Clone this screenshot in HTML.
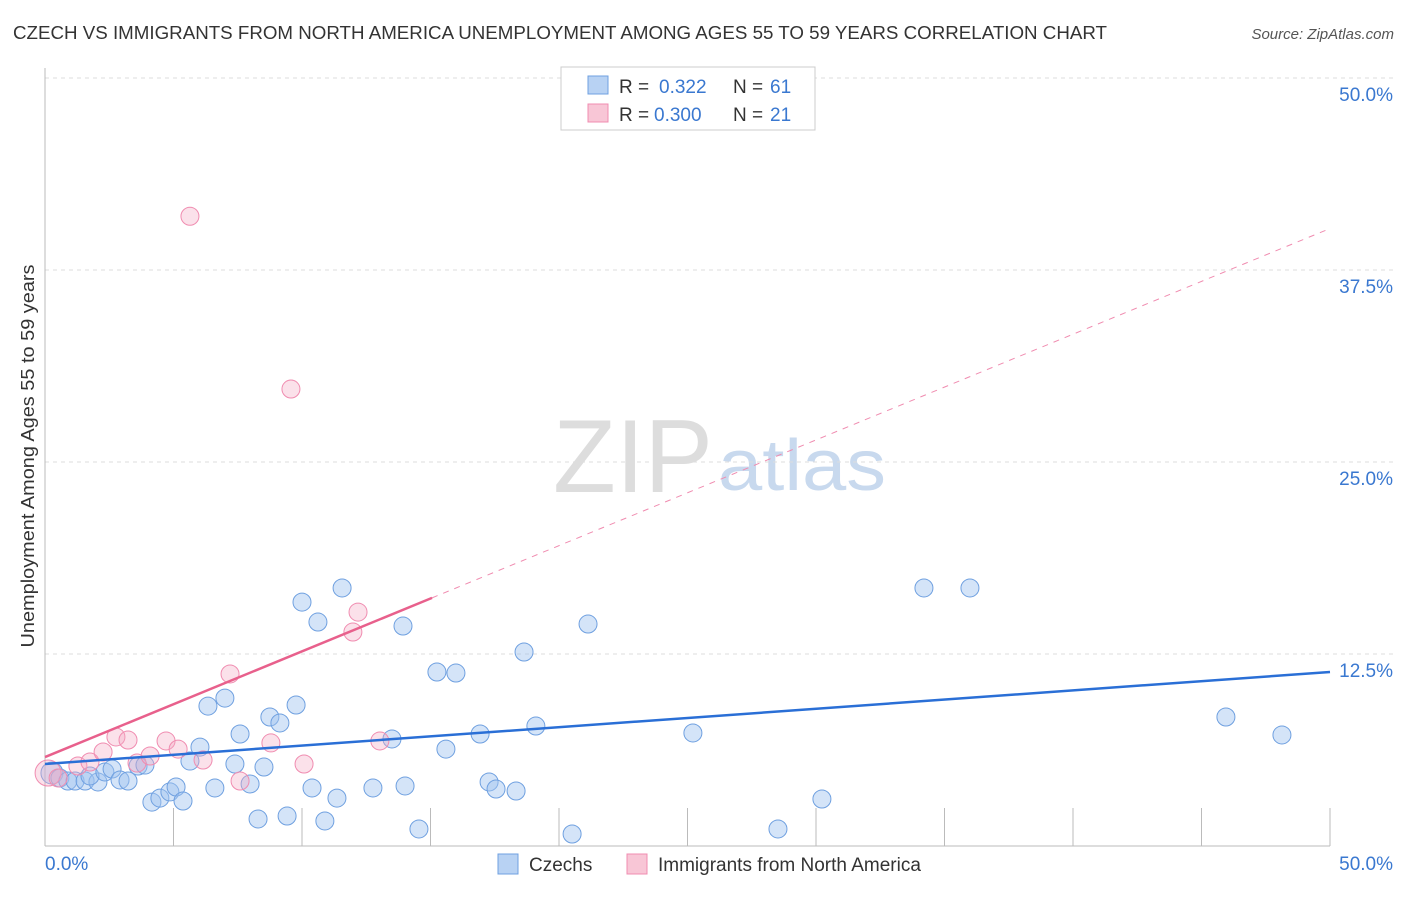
<!DOCTYPE html>
<html><head><meta charset="utf-8"><style>
body{margin:0;background:#fff;font-family:"Liberation Sans",sans-serif;}
svg text{font-family:"Liberation Sans",sans-serif;}
</style></head><body>
<svg id="chart" width="1406" height="892" xmlns="http://www.w3.org/2000/svg">
<text x="13" y="39" font-size="18" fill="#333" textLength="1094" lengthAdjust="spacingAndGlyphs">CZECH VS IMMIGRANTS FROM NORTH AMERICA UNEMPLOYMENT AMONG AGES 55 TO 59 YEARS CORRELATION CHART</text>
<text x="1394" y="39" font-size="15" fill="#555" text-anchor="end" font-style="italic">Source: ZipAtlas.com</text>
<text transform="translate(34,456) rotate(-90)" font-size="18" fill="#333" text-anchor="middle" textLength="383" lengthAdjust="spacingAndGlyphs">Unemployment Among Ages 55 to 59 years</text>
<text x="553" y="492" font-size="104" fill="#ddd" font-family="Liberation Serif" textLength="160" lengthAdjust="spacingAndGlyphs">ZIP</text>
<text x="718" y="490" font-size="72" fill="#c8d9ee" textLength="168" lengthAdjust="spacingAndGlyphs">atlas</text>
<g id="grid"></g><g id="marks"></g>
<g>
<rect x="561" y="67" width="254" height="63" fill="#fff" stroke="#ccc"/>
<rect x="588" y="76" width="20" height="18" fill="#b8d2f3" stroke="#6fa0e0"/>
<rect x="588" y="104" width="20" height="18" fill="#f8c6d6" stroke="#f08cb0"/>
<text x="619" y="93" font-size="19" fill="#333">R =</text>
<text x="659" y="93" font-size="19" fill="#3a78d0">0.322</text>
<text x="733" y="93" font-size="19" fill="#333">N =</text>
<text x="770" y="93" font-size="19" fill="#3a78d0">61</text>
<text x="619" y="121" font-size="19" fill="#333">R =</text>
<text x="654" y="121" font-size="19" fill="#3a78d0">0.300</text>
<text x="733" y="121" font-size="19" fill="#333">N =</text>
<text x="770" y="121" font-size="19" fill="#3a78d0">21</text>
</g>
<g>
<rect x="498" y="854" width="20" height="20" fill="#b8d2f3" stroke="#6fa0e0"/>
<text x="529" y="871" font-size="19" fill="#333">Czechs</text>
<rect x="627" y="854" width="20" height="20" fill="#f8c6d6" stroke="#f08cb0"/>
<text x="658" y="871" font-size="19" fill="#333">Immigrants from North America</text>
</g>
</svg>
<script>
const czechX=[0.27,0.58,0.89,1.17,1.56,2.06,1.75,2.33,2.61,2.92,3.23,3.62,3.89,4.16,4.47,4.86,5.10,5.37,5.64,6.03,6.34,6.61,7.00,7.39,7.59,7.98,8.29,8.52,8.75,9.14,9.42,9.77,10.00,10.39,10.62,10.89,11.36,11.56,12.76,13.50,13.93,14.01,14.55,15.25,15.60,15.99,16.93,17.28,17.55,18.33,18.64,19.10,20.51,21.13,25.21,28.52,30.23,34.20,35.99,45.95,48.13];
const czechY=[4.75,4.43,4.23,4.23,4.23,4.17,4.56,4.82,5.01,4.30,4.23,5.21,5.27,2.86,3.12,3.52,3.84,2.93,5.53,6.44,9.11,3.78,9.63,5.34,7.29,4.04,1.76,5.14,8.40,8.01,1.95,9.18,15.88,3.78,14.58,1.63,3.12,16.80,3.78,6.97,14.32,3.91,1.11,11.33,6.31,11.26,7.29,4.17,3.71,3.58,12.63,7.81,0.78,14.45,7.36,1.11,3.06,16.80,16.80,8.40,7.23];
const immX=[0.12,0.51,1.28,1.75,2.26,2.76,3.23,3.58,4.09,4.71,5.18,5.64,6.15,7.20,7.59,8.79,9.57,10.08,11.98,12.18,13.03];
const immY=[4.75,4.43,5.21,5.47,6.12,7.10,6.90,5.40,5.86,6.84,6.31,41.0,5.60,11.20,4.23,6.71,29.75,5.34,13.93,15.23,6.84];
const czechTrend=[5.34,11.33];
const immTrend=[5.79,40.2];
const immSolidEnd=15.06;
const yTicks=[12.5,25,37.5,50];
const yTickLabels=["12.5%","25.0%","37.5%","50.0%"];
const xTicks=[5,10,15,20,25,30,35,40,45,50];
const NS="http://www.w3.org/2000/svg";
const sx=v=>45+v/50*1285, sy=v=>846-v/12.5*192;
const grid=document.getElementById('grid'), marks=document.getElementById('marks');
function mk(tag,attrs,parent){const e=document.createElementNS(NS,tag);for(const k in attrs)e.setAttribute(k,attrs[k]);parent.appendChild(e);return e;}
yTicks.forEach((t,i)=>{
  const l=mk('line',{x1:45,x2:1394,y1:sy(t),y2:sy(t),stroke:'#ddd','stroke-dasharray':'4,4'},grid);
  
  
  const tx=mk('text',{x:1393,y:sy(t)+23,'font-size':19,fill:'#3a78d0','text-anchor':'end'},grid);
  tx.textContent=yTickLabels[i];
  
  
});
xTicks.forEach(t=>{
  const l=mk('line',{x1:sx(t),x2:sx(t),y1:808,y2:846,stroke:'#bbb'},grid);
  
  
});
const ya=mk('line',{x1:45,x2:45,y1:68,y2:846,stroke:'#bbb'},grid);


const xa=mk('line',{x1:45,x2:1330,y1:846,y2:846,stroke:'#bbb'},grid);


const x0=mk('text',{x:45,y:870,'font-size':19,fill:'#3a78d0'},grid);x0.textContent='0.0%';


const x1=mk('text',{x:1393,y:870,'font-size':19,fill:'#3a78d0','text-anchor':'end'},grid);x1.textContent='50.0%';


czechX.forEach((v,i)=>{
  const c=mk('circle',{cx:sx(v),cy:sy(czechY[i]),r:i===0?11:9,fill:'rgba(160,196,240,0.45)',stroke:'#6fa0e0','stroke-width':1},marks);
  
  
});
immX.forEach((v,i)=>{
  const c=mk('circle',{cx:sx(v),cy:sy(immY[i]),r:i===0?13:9,fill:'rgba(244,170,195,0.35)',stroke:'#f08cb0','stroke-width':1},marks);
  
  
});
const iy=x=>immTrend[0]+(immTrend[1]-immTrend[0])*x/50;
const pd=mk('line',{x1:sx(immSolidEnd),y1:sy(iy(immSolidEnd)),x2:sx(50),y2:sy(iy(50)),stroke:'#f08cb0','stroke-dasharray':'6,6','stroke-width':1},marks);


const ps=mk('line',{x1:sx(0),y1:sy(iy(0)),x2:sx(immSolidEnd),y2:sy(iy(immSolidEnd)),stroke:'#e8608c','stroke-width':2.5},marks);


const bl=mk('line',{x1:sx(0),y1:sy(czechTrend[0]),x2:sx(50),y2:sy(czechTrend[1]),stroke:'#2a6fd6','stroke-width':2.5},marks);


</script>
</body></html>
